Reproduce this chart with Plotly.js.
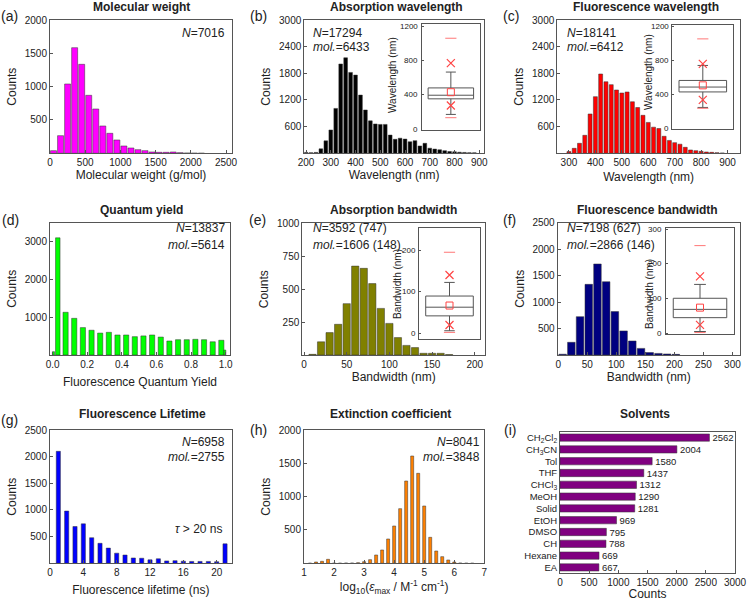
<!DOCTYPE html>
<html>
<head>
<meta charset="utf-8">
<script src="https://cdn.plot.ly/plotly-3.0.1.min.js"></script>
<style>html,body{margin:0;padding:0;background:#fff;}#chart{width:748px;height:601px;}</style>
</head>
<body>
<div id="chart"></div>
<script>
// ---------------- DATA ----------------
// (a) Molecular weight
const mwBins = [50,150,250,350,450,550,650,750,850,950,1050,1150,1250,1350,1450,1550,1650,1750,1850,1950,2050,2150];
const mwCounts = [40,265,1040,1585,1335,870,665,410,300,200,110,80,55,40,20,15,15,20,10,5,3,2];
// (b) Absorption wavelength
const absWl = [200,220,240,260,280,300,320,340,360,380,400,420,440,460,480,500,520,540,560,580,600,620,640,660,680,700,720,740,760,780,800,820,840,860,880];
const absCounts = [20,15,20,100,280,525,1010,2010,2150,1820,1760,1310,975,730,660,650,650,410,315,340,320,260,285,165,225,115,95,80,60,40,35,25,20,15,12];
// (c) Fluorescence wavelength
const flWl = [300,320,340,360,380,400,420,440,460,480,500,520,540,560,580,600,620,640,660,680,700,720,740,760,780,800,820,840,860,880];
const flCounts = [38,112,225,405,885,1275,1785,1610,1545,1425,1357,1380,1160,1030,855,695,588,558,383,290,240,205,135,75,60,45,30,22,15,8];
// (d) Quantum yield
const qyBins = [0.005,0.03,0.075,0.125,0.175,0.225,0.275,0.325,0.375,0.425,0.475,0.525,0.575,0.625,0.675,0.725,0.775,0.825,0.875,0.925,0.975,0.995];
const qyCounts = [88,3100,1130,970,725,655,580,600,530,530,485,505,530,475,370,405,405,415,405,350,390,130];
// (e) Absorption bandwidth
const absBw = [10,20,30,40,50,60,70,80,90,100,110,120,130,140,150,160,170];
const absBwCounts = [5,100,170,233,390,675,658,542,354,240,132,73,56,13,13,13,3];
// (f) Fluorescence bandwidth
const flBw = [7.5,22.5,37.5,52.5,67.5,82.5,97.5,112.5,127.5,142.5,157.5,172.5,187.5,202.5];
const flBwCounts = [15,240,725,1335,1720,1385,820,455,265,125,45,30,20,12];
// (g) Fluorescence lifetime
const ltBins = [1,2,3,4,5,6,7,8,9,10,11,12,13,14,15,16,17,18,19,20,21];
const ltCounts = [2100,980,690,740,480,375,285,190,155,100,95,65,85,45,50,40,35,35,35,30,365];
// (h) Extinction coefficient
const ecBins = [1.2,1.4,1.6,1.8,2.0,2.2,2.4,2.6,2.8,3.0,3.2,3.4,3.6,3.8,4.0,4.2,4.4,4.6,4.8,5.0,5.2,5.4,5.6,5.8,6.0,6.2,6.4,6.6];
const ecCounts = [3,20,30,60,3,3,5,5,10,25,55,125,200,365,560,820,1235,1610,1350,860,390,185,100,50,20,5,3,2];
// (i) Solvents
const solvNames = ['CH<sub>2</sub>Cl<sub>2</sub>','CH<sub>3</sub>CN','Tol','THF','CHCl<sub>3</sub>','MeOH','Solid','EtOH','DMSO','CH','Hexane','EA'];
const solvCounts = [2562,2004,1580,1437,1312,1290,1281,969,795,788,669,667];
// Inset box statistics: [min, p1, lowerWhisker, q1, median, mean, q3, upperWhisker, p99, max]
const boxAbsWl = [135,277,173,354,396,431,481,665,769,1058];
const boxFlWl  = [240,338,250,431,488,508,565,740,758,1050];
const boxAbsBw = [2,20,6,42,63,67,90,123,141,196];
const boxFlBw  = [2,24,5,45,69,74,101,141,164,253];
// Tick values
const yTicksA = [500,1000,1500,2000];
const yTicksBC = [600,1200,1800,2400,3000];
const yTicksD = [1000,2000,3000];
const yTicksE = [250,500,750,1000];
const yTicks2500 = [500,1000,1500,2000,2500];
const yTicksH = [500,1000,1500,2000];
const insetTicksWl = [0,400,800,1200];
const insetTicksAbsBw = [0,100,200];
const insetTicksFlBw = [0,100,200,300];

// ---------------- LAYOUT HELPERS ----------------
const W = 748, H = 601;
const FONT = 'Liberation Sans, Arial, sans-serif';
function xd(a,b){return [a/W, b/W];}
function yd(top,bot){return [1-bot/H, 1-top/H];}
const axBase = {showline:true, mirror:true, linecolor:'#555', linewidth:1, ticks:'inside', ticklen:3,
  tickcolor:'#555', tickfont:{size:10,color:'#222',family:FONT}, showgrid:false, zeroline:false, fixedrange:true};
function ax(extra){return Object.assign({}, axBase, extra);}
function ttl(text, standoff){return {text:text, font:{size:12,color:'#222',family:FONT}, standoff:standoff};}

function bars(x,y,w,color,n){
  return {type:'bar', x:x, y:y, width:w, marker:{color:color, line:{color:'#333',width:0.5}},
    xaxis:'x'+n, yaxis:'y'+n, hoverinfo:'skip'};
}
function boxTraces(s, n){
  const a = {xaxis:'x'+n, yaxis:'y'+n, hoverinfo:'skip'};
  const red = '#ff4444';
  return [
    Object.assign({type:'box', x:[0], q1:[s[3]], median:[s[4]], q3:[s[6]], lowerfence:[s[2]], upperfence:[s[7]],
      width:0.78, whiskerwidth:0.22, line:{color:'#555',width:1}, fillcolor:'rgba(0,0,0,0)', boxpoints:false}, a),
    Object.assign({type:'scatter', mode:'markers', x:[0,0], y:[s[1],s[8]],
      marker:{symbol:'x-thin-open', size:8, color:red, line:{color:red,width:1.2}}}, a),
    Object.assign({type:'scatter', mode:'markers', x:[0], y:[s[5]],
      marker:{symbol:'square-open', size:7, color:red, line:{color:red,width:1}}}, a),
    Object.assign({type:'scatter', mode:'markers', x:[0,0], y:[s[0],s[9]],
      marker:{symbol:'line-ew-open', size:8, color:'#ff7777', line:{color:'#ff7777',width:1}}}, a)
  ];
}

const traces = [
  bars(mwBins, mwCounts, 85, '#ff00ff', ''),
  bars(absWl, absCounts, 15, '#000000', '2'),
  bars(flWl, flCounts, 15, '#ff0000', '3'),
  bars(qyBins, qyCounts, qyBins.map((v,i)=> (i===0||i===qyBins.length-1)?0.012:(i===1?0.026:0.03)), '#00ff00', '4'),
  bars(absBw, absBwCounts, 8.5, '#808000', '5'),
  bars(flBw, flBwCounts, 13, '#000080', '6'),
  bars(ltBins, ltCounts, 0.5, '#0000ff', '7'),
  bars(ecBins, ecCounts, 0.1, '#ff8000', '8'),
  {type:'bar', orientation:'h', y:solvNames, x:solvCounts, width:0.62, text:solvCounts.map(String),
   textposition:'outside', constraintext:'none', cliponaxis:false, textfont:{size:9.5,color:'#222',family:FONT},
   marker:{color:'#800080', line:{color:'#333',width:0.5}}, xaxis:'x9', yaxis:'y9', hoverinfo:'skip'}
].concat(boxTraces(boxAbsWl,'10'), boxTraces(boxFlWl,'11'), boxTraces(boxAbsBw,'12'), boxTraces(boxFlBw,'13'));

const XS = 2, YS = 5;
function insetX(a,b,n){return ax({domain:xd(a,b), range:[-0.5,0.5], showticklabels:false, ticks:'', anchor:'y'+n});}
function insetY(top,bot,range,tv,n){return ax({domain:yd(top,bot), range:range, tickvals:tv, showticklabels:false, ticklen:2, anchor:'x'+n});}
const layout = {
  width:W, height:H, margin:{l:0,r:0,t:0,b:0}, paper_bgcolor:'#fff', plot_bgcolor:'rgba(0,0,0,0)',
  showlegend:false, font:{family:FONT, color:'#222'},
  // (a)
  xaxis: ax({domain:xd(50,232), range:[0,2585], tickvals:[0,500,1000,1500,2000,2500], anchor:'y', title:ttl('Molecular weight (g/mol)',XS)}),
  yaxis: ax({domain:yd(20,153.3), range:[0,2000], tickvals:yTicksA, anchor:'x', title:ttl('Counts',YS)}),
  // (b)
  xaxis2: ax({domain:xd(304.3,484), range:[193,919], tickvals:[200,300,400,500,600,700,800,900], anchor:'y2', title:ttl('Wavelength (nm)',XS+1)}),
  yaxis2: ax({domain:yd(20,153.3), range:[0,3000], tickvals:yTicksBC, anchor:'x2', title:ttl('Counts',YS)}),
  // (c)
  xaxis3: ax({domain:xd(557.3,740), range:[256,947], tickvals:[300,400,500,600,700,800,900], anchor:'y3', title:ttl('Wavelength (nm)',XS+3)}),
  yaxis3: ax({domain:yd(20,153.3), range:[0,3000], tickvals:yTicksBC, anchor:'x3', title:ttl('Counts',YS)}),
  // (d)
  xaxis4: ax({domain:xd(50,230), range:[-0.015,1.025], tickvals:[0,0.2,0.4,0.6,0.8,1.0], ticktext:['0.0','0.2','0.4','0.6','0.8','1.0'], anchor:'y4', title:ttl('Fluorescence Quantum Yield',XS+6)}),
  yaxis4: ax({domain:yd(222.7,355), range:[0,3500], tickvals:yTicksD, anchor:'x4', title:ttl('Counts',YS)}),
  // (e)
  xaxis5: ax({domain:xd(302.3,485), range:[-2,212], tickvals:[0,50,100,150,200], anchor:'y5', title:ttl('Bandwidth (nm)',XS)}),
  yaxis5: ax({domain:yd(223.3,355), range:[0,1000], tickvals:yTicksE, anchor:'x5', title:ttl('Counts',YS)}),
  // (f)
  xaxis6: ax({domain:xd(557.7,740), range:[-1,313], tickvals:[0,50,100,150,200,250,300], anchor:'y6', title:ttl('Bandwidth (nm)',XS)}),
  yaxis6: ax({domain:yd(222.7,355), range:[0,2500], tickvals:yTicks2500, anchor:'x6', title:ttl('Counts',YS)}),
  // (g)
  xaxis7: ax({domain:xd(50,231.7), range:[0,21.8], tickvals:[0,4,8,12,16,20], anchor:'y7', title:ttl('Fluorescence lifetime (ns)',XS+6)}),
  yaxis7: ax({domain:yd(430,563.3), range:[0,2500], tickvals:yTicks2500, anchor:'x7', title:ttl('Counts',YS)}),
  // (h)
  xaxis8: ax({domain:xd(304,484.3), range:[1,7], tickvals:[1,2,3,4,5,6,7], anchor:'y8', title:ttl('log<sub>10</sub>(<i>ε</i><sub>max</sub> / M<sup>-1</sup> cm<sup>-1</sup>)',XS)}),
  yaxis8: ax({domain:yd(430,563.3), range:[0,2000], tickvals:yTicksH, anchor:'x8', title:ttl('Counts',YS)}),
  // (i)
  xaxis9: ax({domain:xd(560,735), range:[0,3000], tickvals:[0,500,1000,1500,2000,2500,3000], anchor:'y9', title:ttl('Counts',XS+6)}),
  yaxis9: ax({domain:yd(431.7,573.3), type:'category', autorange:'reversed', tickmode:'linear', tick0:0, dtick:1,
    anchor:'x9', ticks:'', ticklen:0, tickfont:{size:9.5,color:'#222',family:FONT}}),
  // insets
  xaxis10: insetX(421.7,480,'10'),
  yaxis10: insetY(24.3,130,[-8,1220],insetTicksWl,'10'),
  xaxis11: insetX(672.3,733.3,'11'),
  yaxis11: insetY(25,129.3,[-5,1212],insetTicksWl,'11'),
  xaxis12: insetX(419,480,'12'),
  yaxis12: insetY(228.3,339,[-14,254],insetTicksAbsBw,'12'),
  xaxis13: insetX(665.7,734.3,'13'),
  yaxis13: insetY(228.3,334.3,[-3,303],insetTicksFlBw,'13'),
  annotations: []
};

function ann(text, x, y, xanchor, size, extra){
  return Object.assign({xref:'paper', yref:'paper', x:x/W, y:1-y/H, text:text, showarrow:false,
    xanchor:xanchor||'center', yanchor:'middle', font:{size:size||12, color:'#222', family:FONT}}, extra||{});
}
const A = layout.annotations;
// Titles
[['Molecular weight',141,7],['Absorption wavelength',396,7],['Fluorescence wavelength',646,7],
 ['Quantum yield',141,210],['Absorption bandwidth',393,210],['Fluorescence bandwidth',647,210],
 ['Fluorescence Lifetime',142,414],['Extinction coefficient',390,414],['Solvents',645,414]
].forEach(t=>A.push(ann('<b>'+t[0]+'</b>', t[1], t[2], 'center', 12)));
// Panel labels
[['(a)',9,16],['(b)',258,16],['(c)',511,16],['(d)',10,220],['(e)',257,220],['(f)',510,220],
 ['(g)',9,420],['(h)',258,430],['(i)',510,430]
].forEach(t=>A.push(ann(t[0], t[1], t[2], 'center', 14)));
// Inset tick labels, placed through each inset's own y scale
[['10',insetTicksWl],['11',insetTicksWl],['12',insetTicksAbsBw],['13',insetTicksFlBw]].forEach(p=>{
  p[1].forEach(v=>A.push({xref:'x'+p[0]+' domain', yref:'y'+p[0], x:0, y:v, xanchor:'right', yanchor:'middle',
    xshift:-1.5, text:String(v), showarrow:false, font:{size:8,color:'#222',family:FONT}}));
});
// Inset axis titles
[['Wavelength (nm)',392,75],['Wavelength (nm)',648,72],['Bandwidth (nm)',397,284],['Bandwidth (nm)',649,294]
].forEach(t=>A.push(ann(t[0], t[1], t[2], 'center', 10, {textangle:-90})));
// Statistics
A.push(ann('<i>N</i>=7016', 227, 33, 'right'));
A.push(ann('<i>N</i>=17294', 311, 33, 'left'));
A.push(ann('<i>mol.</i>=6433', 311, 47, 'left'));
A.push(ann('<i>N</i>=18141', 565, 33, 'left'));
A.push(ann('<i>mol.</i>=6412', 565, 47, 'left'));
A.push(ann('<i>N</i>=13837', 227, 228, 'right'));
A.push(ann('<i>mol.</i>=5614', 227, 245, 'right'));
A.push(ann('<i>N</i>=3592 (747)', 311, 228, 'left'));
A.push(ann('<i>mol.</i>=1606 (148)', 311, 245, 'left'));
A.push(ann('<i>N</i>=7198 (627)', 565, 228, 'left'));
A.push(ann('<i>mol.</i>=2866 (146)', 565, 245, 'left'));
A.push(ann('<i>N</i>=6958', 227, 442, 'right'));
A.push(ann('<i>mol.</i>=2755', 227, 457, 'right'));
A.push(ann('<i>τ</i> &gt; 20 ns', 225, 529, 'right'));
A.push(ann('<i>N</i>=8041', 482, 442, 'right'));
A.push(ann('<i>mol.</i>=3848', 482, 457, 'right'));

Plotly.newPlot('chart', traces, layout, {staticPlot:true, displayModeBar:false});
</script>
</body>
</html>
